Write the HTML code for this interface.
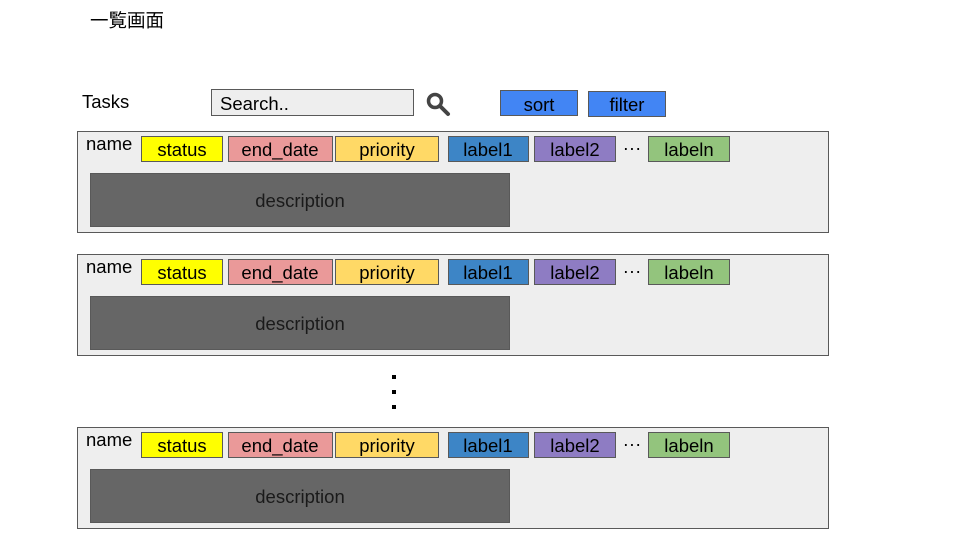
<!DOCTYPE html>
<html><head><meta charset="utf-8"><style>html,body{margin:0;padding:0;background:#fff}svg{display:block}</style></head>
<body>
<svg width="960" height="540" viewBox="0 0 960 540" xmlns="http://www.w3.org/2000/svg" font-family="Liberation Sans, Noto Sans CJK JP, sans-serif" font-size="18.5">
<rect width="960" height="540" fill="#fff"/>
<text x="90" y="27" font-size="18.5" font-family="Noto Sans CJK JP, sans-serif" fill="#000">一覧画面</text>
<text x="82" y="108" fill="#000">Tasks</text>
<rect x="211.5" y="89.5" width="202" height="26" fill="#eeeeee" stroke="#595959"/>
<text x="220" y="110" fill="#000">Search..</text>
<circle cx="435" cy="101" r="6.5" fill="none" stroke="#444" stroke-width="3.5"/>
<line x1="440" y1="106" x2="448" y2="114" stroke="#444" stroke-width="4" stroke-linecap="round"/>
<rect x="500.5" y="90.5" width="77" height="25" fill="#4285f4" stroke="#595959"/>
<text x="539" y="111" text-anchor="middle" fill="#000">sort</text>
<rect x="588.5" y="91.5" width="77" height="25" fill="#4285f4" stroke="#595959"/>
<text x="627" y="111" text-anchor="middle" fill="#000">filter</text>
<defs>
<g id="card">
<rect x="77.5" y="0.5" width="751" height="101" fill="#eeeeee" stroke="#595959"/>
<text x="86" y="19" fill="#000">name</text>
<rect x="141.5" y="5.5" width="81" height="25" fill="#ffff00" stroke="#595959"/>
<text x="182" y="25" text-anchor="middle" fill="#000">status</text>
<rect x="228.5" y="5.5" width="104" height="25" fill="#ea9999" stroke="#595959"/>
<text x="280" y="25" text-anchor="middle" fill="#000">end_date</text>
<rect x="335.5" y="5.5" width="103" height="25" fill="#ffd966" stroke="#595959"/>
<text x="387" y="25" text-anchor="middle" fill="#000">priority</text>
<rect x="448.5" y="5.5" width="80" height="25" fill="#3d85c6" stroke="#595959"/>
<text x="488" y="25" text-anchor="middle" fill="#000">label1</text>
<rect x="534.5" y="5.5" width="81" height="25" fill="#8e7cc3" stroke="#595959"/>
<text x="575" y="25" text-anchor="middle" fill="#000">label2</text>
<text x="632" y="23" text-anchor="middle" fill="#000">···</text>
<rect x="648.5" y="5.5" width="81" height="25" fill="#93c47d" stroke="#595959"/>
<text x="689" y="25" text-anchor="middle" fill="#000">labeln</text>
<rect x="90.5" y="42.5" width="419" height="53" fill="#666666" stroke="#595959"/>
<text x="300" y="76" text-anchor="middle" fill="#1a1a1a">description</text>
</g>
</defs>
<use href="#card" x="0" y="131"/>
<use href="#card" x="0" y="254"/>
<use href="#card" x="0" y="427"/>
<rect x="392" y="375" width="4" height="4" fill="#000"/>
<rect x="392" y="390" width="4" height="4" fill="#000"/>
<rect x="392" y="405" width="4" height="4" fill="#000"/>
</svg>
</body></html>
